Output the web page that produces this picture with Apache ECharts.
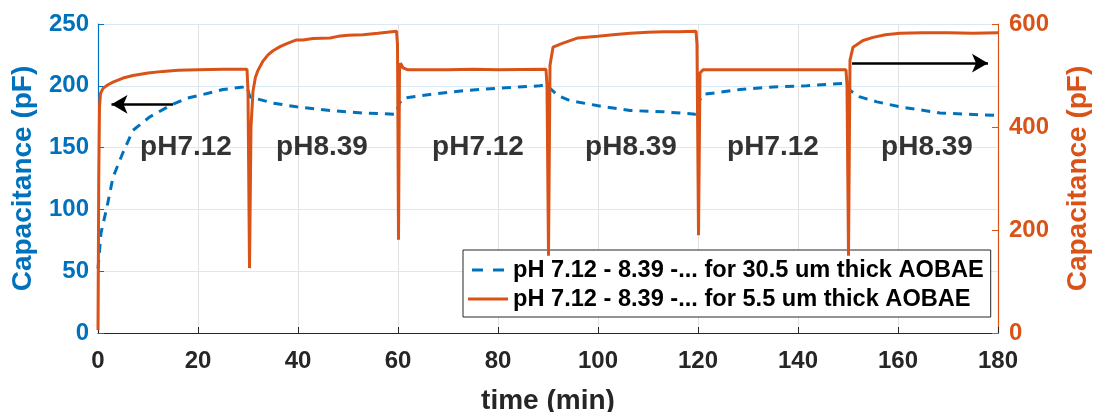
<!DOCTYPE html>
<html>
<head>
<meta charset="utf-8">
<script src="https://cdn.jsdelivr.net/npm/echarts@6/dist/echarts.min.js"></script>
<style>html,body{margin:0;padding:0;background:#fff}#c{width:1094px;height:412px}</style>
</head>
<body>
<div id="c"></div>
<script>
// time (min) / capacitance (pF) pairs
const thickName = 'pH 7.12 - 8.39 -... for 30.5 um thick AOBAE';
const thinName = 'pH 7.12 - 8.39 -... for 5.5 um thick AOBAE';
const thickTime = [0,0.6,1.8,3,5,7,10.4,14.4,17.8,21,25,29,29.7,30.4,35,39.7,46.4,53,59.5,60.3,61,66.4,73,79.8,88.4,89.7,90.4,92,94.4,99.8,106.4,113,119.5,120.3,121,128.4,135,141.8,149,149.7,150.5,152.4,155.8,160.4,168.4,179.8];
const thickCap = [52,81,102,126,146,164,175,184,190,193,197,199,200,191,186,183,180,178,177,186,190,193,196,198,200,201,198,192,188,184,180,179,177,188,193,197,199,200,202,202,196,191,187,183,178,176];
const thinTime = [0,0.15,0.3,0.5,1,2,3,5,7,10,13,16,20,25,29.8,30.0,30.3,30.6,31.0,31.5,32,33,34,35,36.4,38,39.7,41,43,46.4,48,50,53,56,59.7,59.9,60.1,60.3,60.5,61,62,70,75,80,89.6,89.8,90.1,90.4,91,93,96,100,103,106.4,110,113,116,119.6,119.8,120.1,120.4,121,130,140,149.6,149.8,150.1,150.4,151,153,155,157.5,160.4,165,170,175,180];
const thinCap = [6,300,440,465,475,482,487,495,500,505,508,510,511,512,512,470,126,400,470,497,510,528,540,548,556,563,569,569,572,573,576,578,579,582,586,560,181,510,524,515,511,511,512,511,512,480,150,520,555,563,573,576,579,582,584,585,585,586,560,190,505,511,511,511,511,480,150,530,555,568,574,579,582,583,583,582,583];
const phTime = [17.6,44.8,76,106.6,135,165.8];
const phLevel = [150,150,150,150,150,150];
const phText = ['pH7.12','pH8.39','pH7.12','pH8.39','pH7.12','pH8.39'];
const xTicks = [0,20,40,60,80,100,120,140,160,180];
const leftArrow = [[15,185],[2.7,185]];
const rightArrow = [[150.8,524],[178,524]];

const BLUE = '#0072BD', ORANGE = '#D95319', DARK = '#262626';
const FONT = '"Liberation Sans", Arial, sans-serif';
const pair = (ts, vs) => ts.map((t, i) => [t, vs[i]]);

const chart = echarts.init(document.getElementById('c'), null, {renderer: 'canvas'});
chart.setOption({
  animation: false,
  backgroundColor: '#fff',
  textStyle: {fontFamily: FONT},
  grid: {left: 98, right: 96, top: 24, bottom: 79, containLabel: false, outerBoundsMode: 'none'},
  legend: {
    orient: 'vertical', left: 463, top: 250,
    data: [
      {name: thickName, icon: 'path://M0,0h11v3h-11z M21,0h11v3h-11z'},
      {name: thinName, icon: 'path://M0,0h40v3h-40z'}
    ],
    backgroundColor: '#fff', borderColor: DARK, borderWidth: 1,
    padding: [8, 7, 6, 5], itemGap: 5, itemWidth: 40, itemHeight: 3,
    textStyle: {fontSize: 23.6, lineHeight: 23, fontWeight: 'bold', color: '#000', fontFamily: FONT}
  },
  xAxis: {
    type: 'value', min: 0, max: 180, interval: 20,
    name: 'time (min)', nameLocation: 'middle', nameGap: 54,
    nameTextStyle: {fontSize: 28, fontWeight: 'bold', color: DARK, fontFamily: FONT},
    axisLine: {lineStyle: {color: DARK, width: 1.2}},
    axisTick: {inside: true, length: 6, lineStyle: {color: DARK}},
    axisLabel: {fontSize: 24, fontWeight: 'bold', color: DARK, margin: 16, fontFamily: FONT,
      customValues: xTicks},
    splitLine: {show: true, lineStyle: {color: '#e2e2e2', width: 1}}
  },
  yAxis: [{
    type: 'value', min: 0, max: 250, interval: 50, position: 'left',
    name: 'Capacitance (pF)', nameLocation: 'middle', nameGap: 61,
    nameTextStyle: {fontSize: 28, fontWeight: 'bold', color: BLUE, fontFamily: FONT},
    axisLine: {show: true, lineStyle: {color: BLUE, width: 1.2}},
    axisTick: {show: true, inside: true, length: 6, lineStyle: {color: BLUE}},
    axisLabel: {fontSize: 24, fontWeight: 'bold', color: BLUE, margin: 9, fontFamily: FONT},
    splitLine: {show: true, lineStyle: {color: '#d8e8f4', width: 1}}
  }, {
    type: 'value', min: 0, max: 600, interval: 200, position: 'right',
    name: 'Capacitance (pF)', nameLocation: 'middle', nameGap: 66,
    nameTextStyle: {fontSize: 28, fontWeight: 'bold', color: ORANGE, fontFamily: FONT},
    axisLine: {show: true, lineStyle: {color: ORANGE, width: 1.2}},
    axisTick: {show: true, inside: true, length: 6, lineStyle: {color: ORANGE}},
    axisLabel: {fontSize: 24, fontWeight: 'bold', color: ORANGE, margin: 11, fontFamily: FONT},
    splitLine: {show: false}
  }],
  series: [{
    name: thickName, type: 'line', yAxisIndex: 0, showSymbol: false, symbol: 'none',
    data: pair(thickTime, thickCap),
    lineStyle: {color: BLUE, width: 3, type: [9, 7]}, itemStyle: {color: BLUE}, z: 3,
    markLine: {
      silent: true, symbol: ['none', 'arrow'], symbolSize: [14, 16],
      label: {show: false}, lineStyle: {color: '#000', width: 2.5, type: 'solid'},
      data: [[{coord: leftArrow[0]}, {coord: leftArrow[1]}]]
    }
  }, {
    name: thinName, type: 'line', yAxisIndex: 1, showSymbol: false, symbol: 'none',
    data: pair(thinTime, thinCap),
    lineStyle: {color: ORANGE, width: 3}, itemStyle: {color: ORANGE}, z: 4,
    markLine: {
      silent: true, symbol: ['none', 'arrow'], symbolSize: [14, 16],
      label: {show: false}, lineStyle: {color: '#000', width: 2.5, type: 'solid'},
      data: [[{coord: rightArrow[0]}, {coord: rightArrow[1]}]]
    }
  }, {
    name: 'labels', type: 'scatter', yAxisIndex: 0, symbolSize: 0, silent: true, z: 5,
    data: phTime.map((t, i) => [t, phLevel[i], phText[i]]),
    label: {show: true, position: 'inside', formatter: p => p.data[2],
      fontSize: 28, fontWeight: 'bold', color: '#000', fontFamily: FONT}
  }]
});
</script>
</body>
</html>
